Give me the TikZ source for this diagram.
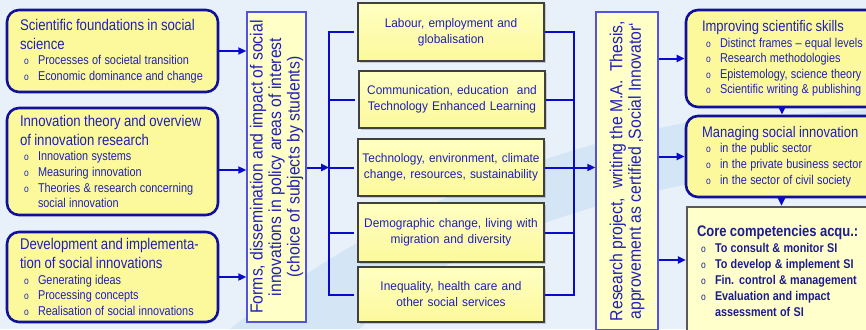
\documentclass[tikz,border=0pt]{standalone}
\usepackage{fontspec}
\usepackage{graphicx}
\setmainfont{Liberation Sans}
\newfontfamily\cf[FakeStretch=0.85]{Liberation Sans}
\newfontfamily\mf[FakeStretch=0.95]{Liberation Sans}
\newfontfamily\vf[FakeStretch=0.9]{Liberation Sans}
\usetikzlibrary{arrows.meta,shadows}
\setlength{\parindent}{0pt}
\hyphenpenalty=10000
\definecolor{txt}{HTML}{2020B8}
\definecolor{txtd}{HTML}{1C1C90}
\definecolor{navy}{HTML}{10109A}
\definecolor{conn}{HTML}{0A0ACC}
\definecolor{yel}{HTML}{FCF99C}
\definecolor{yeltop}{HTML}{FFFFC2}
\definecolor{yelv}{HTML}{FFFFC8}
\definecolor{yelc}{HTML}{FFFFCC}
\definecolor{bgc}{HTML}{E8F1FA}
\definecolor{swoosh}{HTML}{CFE3F6}
\newcommand\bxitem[1]{\makebox[18pt][l]{\hspace*{4pt}{\mdseries\fontsize{10}{10}\selectfont o}}#1}
\newcommand\bxtitle[1]{{\fontsize{15.5}{19}\selectfont #1\par}}
\newcommand\bxlist[1]{{\fontsize{12.8}{15.6}\selectfont #1\par}}
\begin{document}
\begin{tikzpicture}[x=1pt,y=-1pt,
  lbox/.style={draw=navy, line width=2.6pt, rounded corners=12pt, fill=yel,
    text=txt, align=left, font=\cf, inner ysep=0pt},
  mbox/.style={draw=black!75, line width=1.8pt, top color=yeltop, bottom color=yel,
    drop shadow={shadow xshift=1.5pt, shadow yshift=-1.5pt, opacity=0.35},
    text=txt, align=center, text width=184pt, inner xsep=1pt, minimum width=186pt,
    font=\mf\fontsize{12.5}{16}\selectfont},
  vbox/.style={draw=conn!70, line width=1.4pt, fill=yelv, text=txt, inner sep=0pt},
  cbox/.style={draw=black!65, line width=2.2pt, fill=yelc, text=txtd, align=left,
    font=\cf\bfseries, inner ysep=0pt},
  conn/.style={draw=conn, line width=2pt},
  arr/.style={conn, -{Triangle[length=8pt,width=7pt]}}
]
\clip (0,0) rectangle (866,329);
\fill[bgc] (0,0) rectangle (866,329);
\fill[swoosh, opacity=0.8] (230,329) .. controls (330,250) and (480,160) .. (700,120)
  -- (866,110) -- (866,160) .. controls (600,180) and (420,260) .. (360,329) -- cycle;

% left column
\node[lbox, minimum width=211pt, minimum height=82pt, text width=185pt, inner xsep=13pt]
  (L1) at (112.5,51) {\bxtitle{Scientific foundations in social\\science}%
  \bxlist{\bxitem{Processes of societal transition}\par\bxitem{Economic dominance and change}}};
\node[lbox, minimum width=211pt, minimum height=107pt, text width=185pt, inner xsep=13pt]
  (L2) at (112.5,161.5) {\bxtitle{Innovation theory and overview\\of innovation research}%
  \bxlist{\bxitem{Innovation systems}\par\bxitem{Measuring innovation}\par
  \bxitem{Theories \& research concerning}\par\hspace*{18pt}social innovation}};
\node[lbox, minimum width=211pt, minimum height=90pt, text width=185pt, inner xsep=13pt]
  (L3) at (112.5,277) {\bxtitle{Development and implementa-\\tion of social innovations}%
  \bxlist{\bxitem{Generating ideas}\par\bxitem{Processing concepts}\par
  \bxitem{Realisation of social innovations}}};

% vertical box 1
\node[vbox, minimum width=59pt, minimum height=310pt] (V1) at (276.5,167)
  {\rotatebox{90}{\parbox{305pt}{\centering\vf\fontsize{17.5}{18.5}\selectfont
  Forms, dissemination and impact of social\\innovations in policy areas of interest\\(choice of subjects by students)}}};

% middle boxes
\node[mbox, minimum height=58pt] (M1) at (451,32) {Labour, employment and\\globalisation};
\node[mbox, minimum height=57pt] (M2) at (452,99.5) {Communication, education\ \ and\\Technology Enhanced Learning};
\node[mbox, minimum height=57pt] (M3) at (451,167.5) {Technology, environment, climate\\change, resources, sustainability};
\node[mbox, minimum height=59pt] (M4) at (451,232.5) {Demographic change, living with\\migration and diversity};
\node[mbox, minimum height=55pt] (M5) at (451,294.5) {Inequality, health care and\\other social services};

% vertical box 2
\node[vbox, minimum width=62pt, minimum height=318pt] (V2) at (627,171)
  {\rotatebox{90}{\parbox{312pt}{\centering\vf\fontsize{17.5}{18.5}\selectfont
  Research project,\ \ writing the M.A.\ \ Thesis,\\approvement as certified ‚Social Innovator‘}}};

% right column
\node[lbox, minimum width=197pt, minimum height=97pt, text width=165pt, inner xsep=16pt]
  (R1) at (784.5,58.5) {{\fontsize{15.3}{16}\selectfont Improving scientific skills\par}%
  \bxlist{\bxitem{Distinct frames – equal levels}\par\bxitem{Research methodologies}\par
  \bxitem{Epistemology, science theory}\par\bxitem{Scientific writing \& publishing}}};
\node[lbox, minimum width=197pt, minimum height=81pt, text width=165pt, inner xsep=16pt]
  (R2) at (784.5,156.5) {{\fontsize{15.3}{16}\selectfont Managing social innovation\par}%
  \bxlist{\bxitem{in the public sector}\par\bxitem{in the private business sector}\par
  \bxitem{in the sector of civil society}}};
\node[cbox, minimum width=188pt, minimum height=128pt, text width=168pt, inner xsep=10pt]
  (R3) at (781,271) {{\fontsize{15.3}{16}\selectfont Core competencies acqu.:\par}%
  {\fontsize{12.7}{16}\selectfont \bxitem{To consult \& monitor SI}\par\bxitem{To develop \& implement SI}\par
  \bxitem{Fin. control \& management}\par\bxitem{Evaluation and impact}\par
  \hspace*{18pt}assessment of SI\par}};

% connectors left -> V1
\draw[arr] (L1.east) -- (L1.east -| V1.west);
\coordinate (l2out) at ([yshift=-8.5pt]L2.east);
\draw[arr] (l2out) -- (l2out -| V1.west);
\draw[arr] (L3.east) -- (L3.east -| V1.west);

% bracket left of middle boxes
\coordinate (bk) at ([xshift=-28pt]M3.west);
\draw[arr] (V1.east |- M3.west) -- (bk);
\draw[conn] ([xshift=-3pt]M1.west) -- (M1.west -| bk) -- (M5.west -| bk) -- ([xshift=-3pt]M5.west);
\draw[conn] ([xshift=-3pt]M2.west) -- (M2.west -| bk);
\draw[conn] ([xshift=-3pt]M3.west) -- (bk);
\draw[conn] ([xshift=-3pt]M4.west) -- (M4.west -| bk);

% bracket right of middle boxes
\coordinate (bk2) at ([xshift=29pt]M3.east);
\draw[conn] (M1.east) -- (M1.east -| bk2) -- (M5.east -| bk2) -- (M5.east);
\draw[conn] (M2.east) -- (M2.east -| bk2);
\draw[conn] (M3.east) -- (bk2);
\draw[conn] (M4.east) -- (M4.east -| bk2);
\draw[arr] (bk2) -- (bk2 -| V2.west);

% V2 -> right boxes
\coordinate (r3in) at ([yshift=11pt]R3.west);
\draw[arr] (V2.east |- R1.west) -- (R1.west);
\draw[arr] (V2.east |- R2.west) -- (R2.west);
\draw[arr] (V2.east |- r3in) -- (r3in);
\coordinate (d1) at ([xshift=-2.5pt,yshift=2pt]R1.south);
\draw[arr] (d1) -- (d1 |- R2.north);
\coordinate (d2) at ([xshift=-3pt,yshift=2pt]R2.south);
\draw[arr] (d2) -- (d2 |- R3.north);
\end{tikzpicture}
\end{document}
